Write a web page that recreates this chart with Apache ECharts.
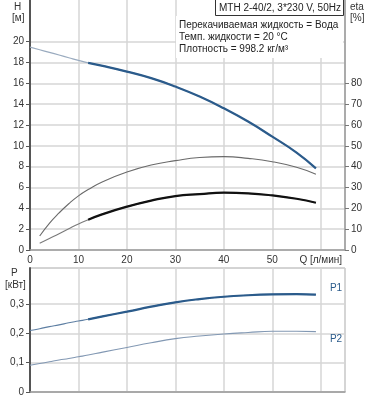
<!DOCTYPE html>
<html>
<head>
<meta charset="utf-8">
<script src="https://cdn.jsdelivr.net/npm/echarts@6/dist/echarts.min.js"></script>
<style>html,body{margin:0;padding:0;background:#fff}#c{width:368px;height:400px}</style>
</head>
<body>
<div id="c"></div>
<script>
// Flow values Q [л/мин]
const q     = [0,     2,     4,     6,     8,     10,    12,    15,    20,    25,    30,    35,    40,    45,    50,    55,    59];
// Head H [м]
const head  = [19.47, 19.22, 18.97, 18.72, 18.46, 18.2,  17.97, 17.68, 17.13, 16.5,  15.69, 14.73, 13.6,  12.33, 10.88, 9.35,  7.84];
// Efficiency curves eta [%]
const eta1  = [null,  6.7,   12.8,  17.8,  22.2,  26.0,  29.0,  32.8,  37.4,  40.8,  42.9,  44.4,  44.8,  44.0,  42.4,  39.7,  36.4];
const eta2  = [null,  3.2,   5.5,   7.8,   10.2,  12.5,  14.5,  17.2,  20.8,  23.7,  25.9,  26.8,  27.5,  27.2,  26.2,  24.6,  22.7];
// Power P [кВт]
const p1    = [0.21,  0.216, 0.223, 0.229, 0.236, 0.242, 0.248, 0.258, 0.274, 0.291, 0.306, 0.317, 0.325, 0.330, 0.333, 0.334, 0.332];
const p2    = [0.091, 0.097, 0.103, 0.109, 0.114, 0.120, 0.126, 0.136, 0.152, 0.168, 0.182, 0.191, 0.198, 0.203, 0.207, 0.207, 0.206];

const xTicks   = [0, 10, 20, 30, 40, 50, 60];
const hTicks   = [0, 2, 4, 6, 8, 10, 12, 14, 16, 18, 20];
const etaTicks = [0, 10, 20, 30, 40, 50, 60, 70, 80];
const pTicks   = [0, 0.1, 0.2, 0.3];
const thickFrom = 12;

const pairs = (vals) => q.map((x, i) => [x, vals[i]]).filter(d => d[1] !== null);
const thick = (vals) => pairs(vals).filter(d => d[0] >= thickFrom);

const FONT = '"Liberation Sans", Arial, sans-serif';
const GRID = '#d6d6d6';
const BLUE = '#2b5b8b';

const chart = echarts.init(document.getElementById('c'), null, {renderer: 'canvas'});

function line(xi, yi, data, color, width, z) {
  return {type: 'line', xAxisIndex: xi, yAxisIndex: yi, data: data, smooth: 0.5,
          showSymbol: false, symbol: 'none', sampling: null, lineStyle: {color: color, width: width}, z: z || 3, silent: true};
}

chart.setOption({
  animation: false,
  textStyle: {fontFamily: FONT},
  grid: [
    {left: 30, top: 0, width: 315, height: 250, containLabel: false},
    {left: 30, top: 268, width: 315, height: 124, show: true, borderColor: '#a8a8a8', borderWidth: 1, containLabel: false}
  ],
  xAxis: [
    {type: 'value', gridIndex: 0, min: 0, max: 65, interval: 10,
     axisLine: {show: true, lineStyle: {color: '#9a9a9a', width: 1.5}},
     axisTick: {show: false},
     splitLine: {show: true, lineStyle: {color: GRID, width: 1.5}},
     axisLabel: {customValues: xTicks, color: '#333', fontSize: 10, margin: 5,
                 formatter: v => v === 60 ? 'Q [л/мин]' : String(v)}},
    {type: 'value', gridIndex: 1, min: 0, max: 65, interval: 10,
     axisLine: {show: true, lineStyle: {color: '#9a9a9a', width: 1.5}},
     axisTick: {show: false}, axisLabel: {show: false},
     splitLine: {show: true, lineStyle: {color: GRID, width: 1.5}}}
  ],
  yAxis: [
    {type: 'value', gridIndex: 0, min: 0, max: 24, interval: 2, position: 'left',
     axisLine: {show: true, onZero: false, lineStyle: {color: '#555', width: 2}},
     axisTick: {show: true, customValues: hTicks, length: 4, lineStyle: {color: '#555'}},
     splitLine: {show: true, lineStyle: {color: GRID, width: 1.5}},
     axisLabel: {customValues: hTicks, color: '#333', fontSize: 10, margin: 6}},
    {type: 'value', gridIndex: 0, min: 0, max: 120, interval: 10, position: 'right',
     axisLine: {show: true, onZero: false, lineStyle: {color: '#9a9a9a', width: 1.5}},
     axisTick: {show: true, customValues: etaTicks, length: 4, lineStyle: {color: '#777'}},
     splitLine: {show: false},
     axisLabel: {customValues: etaTicks, color: '#333', fontSize: 10, margin: 6}},
    {type: 'value', gridIndex: 1, min: 0, max: 0.423, interval: 0.1, position: 'left',
     axisLine: {show: true, onZero: false, lineStyle: {color: '#555', width: 2}},
     axisTick: {show: true, customValues: pTicks, length: 4, lineStyle: {color: '#555'}},
     splitLine: {show: true, lineStyle: {color: GRID, width: 1.5}},
     axisLabel: {customValues: pTicks, color: '#333', fontSize: 10, margin: 6,
                 formatter: v => v === 0 ? '0' : v.toFixed(1).replace('.', ',')}}
  ],
  graphic: [
    {type: 'text', left: 14, top: 2, style: {text: 'H', font: '10px ' + FONT, fill: '#333'}},
    {type: 'text', left: 12, top: 13, style: {text: '[м]', font: '10px ' + FONT, fill: '#333'}},
    {type: 'text', left: 350, top: 2, style: {text: 'eta', font: '10px ' + FONT, fill: '#333'}},
    {type: 'text', left: 350, top: 13, style: {text: '[%]', font: '10px ' + FONT, fill: '#333'}},
    {type: 'text', left: 11, top: 268, style: {text: 'P', font: '10px ' + FONT, fill: '#333'}},
    {type: 'text', left: 5, top: 280, style: {text: '[кВт]', font: '10px ' + FONT, fill: '#333'}},
    {type: 'rect', shape: {x: 176, y: 16, width: 167, height: 42}, style: {fill: '#fff'}, z: 1},
    {type: 'rect', shape: {x: 215.5, y: -1, width: 128, height: 16.5}, style: {fill: '#fff', stroke: '#333', lineWidth: 1}, z: 1},
    {type: 'text', x: 219, y: 8, style: {text: 'MTH 2-40/2, 3*230 V, 50Hz', font: '10px ' + FONT, fill: '#222', verticalAlign: 'middle'}, z: 2},
    {type: 'text', x: 179, y: 25, style: {text: 'Перекачиваемая жидкость = Вода', font: '10px ' + FONT, fill: '#222', verticalAlign: 'middle'}, z: 2},
    {type: 'text', x: 179, y: 37, style: {text: 'Темп. жидкости = 20 °C', font: '10px ' + FONT, fill: '#222', verticalAlign: 'middle'}, z: 2},
    {type: 'text', x: 179, y: 49, style: {text: 'Плотность = 998.2 кг/м³', font: '10px ' + FONT, fill: '#222', verticalAlign: 'middle'}, z: 2},
    {type: 'text', x: 336, y: 288, style: {text: 'P1', font: '10px ' + FONT, fill: BLUE, align: 'center', verticalAlign: 'middle'}, z: 2},
    {type: 'text', x: 336, y: 339, style: {text: 'P2', font: '10px ' + FONT, fill: BLUE, align: 'center', verticalAlign: 'middle'}, z: 2}
  ],
  series: [
    line(0, 0, pairs(head), '#9aabbf', 1.2),
    line(0, 0, thick(head), BLUE, 2.2, 4),
    line(0, 1, pairs(eta1), '#6a6a6a', 1.1),
    line(0, 1, pairs(eta2), '#7a7a7a', 1.1),
    line(0, 1, thick(eta2), '#111', 2.2, 4),
    line(1, 2, pairs(p1), '#5e7fa3', 1.1),
    line(1, 2, thick(p1), BLUE, 2.2, 4),
    line(1, 2, pairs(p2), '#8298b3', 1.1)
  ]
});
</script>
</body>
</html>
